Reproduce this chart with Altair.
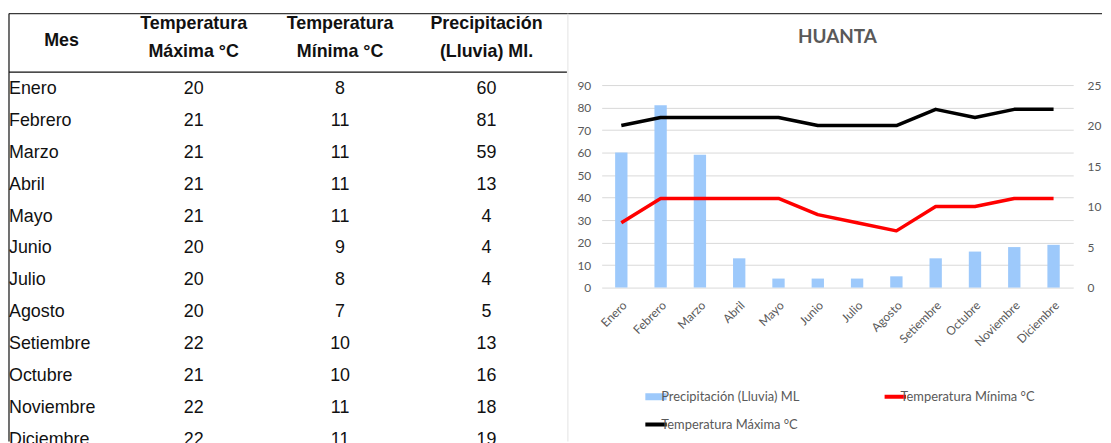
import altair as alt
import pandas as pd

# ---------------- data ----------------
meses = ["Enero", "Febrero", "Marzo", "Abril", "Mayo", "Junio", "Julio",
         "Agosto", "Setiembre", "Octubre", "Noviembre", "Diciembre"]
t_max = [20, 21, 21, 21, 21, 20, 20, 20, 22, 21, 22, 22]
t_min = [8, 11, 11, 11, 11, 9, 8, 7, 10, 10, 11, 11]
precip = [60, 81, 59, 13, 4, 4, 4, 5, 13, 16, 18, 19]

col_keys = ["tmax", "tmin", "prec"]
col_headers = ["Temperatura\nMáxima °C", "Temperatura\nMínima °C", "Precipitación\n(Lluvia) Ml."]
mes_header = "Mes"

serie_prec = "Precipitación (Lluvia) ML"
serie_min = "Temperatura Mínima °C"
serie_max = "Temperatura Máxima °C"
titulo = "HUANTA"

# ---------------- styles / layout ----------------
TBL_FONT = "Liberation Sans, Arial"
CH_FONT = "Lato"
GREY = "#595959"
BLUE = "#9dc9fb"
RED = "#ff0000"
BLACK = "#000000"

P_W, P_H = 475, 204       # chart plot area (the view)
TX0 = -597                # left edge of the table, in view pixels
TOP = -72                 # top border line
BOTTOM = 359              # bottom of the page, in view pixels
RIGHT = 504               # right end of the top border
CH_LEFT = -34             # chart frame left border

one = pd.DataFrame({"k": [0]})

# ---------------- table layers ----------------
rows_month = pd.DataFrame({"row": list(range(len(meses))), "txt": meses})
rows_num = pd.DataFrame(
    [{"row": i, "col": k, "txt": str(v)}
     for k, vals in zip(col_keys, [t_max, t_min, precip])
     for i, v in enumerate(vals)]
)
hdr = pd.DataFrame({"col": col_keys, "txt": col_headers, "row": [-2.036] * 3})
hdr_mes = pd.DataFrame({"txt": [mes_header], "row": [-1.506]})

yrow = alt.Scale(domain=[0, 11], range=[4.3, 357.1], zero=False, nice=False)
xcol = alt.Scale(domain=col_keys, range=[TX0 + 186, TX0 + 481], padding=0)

t_month = alt.Chart(rows_month).mark_text(
    align="left", baseline="middle", font=TBL_FONT, fontSize=18, color="#111111"
).encode(x=alt.value(TX0), y=alt.Y("row:Q", scale=yrow, axis=None), text="txt:N")

t_num = alt.Chart(rows_num).mark_text(
    align="center", baseline="middle", font=TBL_FONT, fontSize=18, color="#111111"
).encode(x=alt.X("col:N", scale=xcol, axis=None, sort=col_keys),
         y=alt.Y("row:Q", scale=yrow, axis=None), text="txt:N")

t_hdr = alt.Chart(hdr).mark_text(
    align="center", baseline="middle", font=TBL_FONT, fontSize=18, fontWeight="bold",
    color="#111111", lineBreak="\n", lineHeight=28
).encode(x=alt.X("col:N", scale=xcol, axis=None, sort=col_keys),
         y=alt.Y("row:Q", scale=yrow, axis=None), text="txt:N")

t_mes = alt.Chart(hdr_mes).mark_text(
    align="center", baseline="middle", font=TBL_FONT, fontSize=18, fontWeight="bold",
    color="#111111"
).encode(x=alt.value(TX0 + 53), y=alt.Y("row:Q", scale=yrow, axis=None), text="txt:N")

r_top = alt.Chart(one).mark_rule(color="#3a3a3a", strokeWidth=1.2).encode(
    x=alt.value(TX0), x2=alt.value(RIGHT), y=alt.value(TOP))
r_left = alt.Chart(one).mark_rule(color="#111111", strokeWidth=1.2).encode(
    x=alt.value(TX0), y=alt.value(TOP), y2=alt.value(BOTTOM))
r_hdr = alt.Chart(one).mark_rule(color="#111111", strokeWidth=1.2).encode(
    x=alt.value(TX0), x2=alt.value(CH_LEFT - 1), y=alt.value(-13))
c_left = alt.Chart(one).mark_rule(color="#e3e3e3", strokeWidth=1).encode(
    x=alt.value(CH_LEFT), y=alt.value(TOP), y2=alt.value(BOTTOM))

# ---------------- chart layers ----------------
df = pd.DataFrame({"mes": meses, "prec": precip})
df_lines = pd.DataFrame(
    [{"mes": m, "serie": s, "valor": v}
     for s, vals in [(serie_max, t_max), (serie_min, t_min)]
     for m, v in zip(meses, vals)]
)

xaxis = alt.Axis(title=None, labelAngle=315, labelAlign="right", labelBaseline="top",
                 labelPadding=12, labelOverlap=False, grid=False, domain=False, ticks=False,
                 labelFont=CH_FONT, labelFontSize=12, labelColor=GREY)
xscale = alt.Scale(paddingInner=0.686, paddingOuter=0.343)

bars = alt.Chart(df).mark_bar(color=BLUE).encode(
    x=alt.X("mes:N", sort=meses, scale=xscale, axis=xaxis),
    y=alt.Y("prec:Q", scale=alt.Scale(domain=[0, 90], nice=False),
            axis=alt.Axis(title=None, values=list(range(0, 91, 10)), grid=True,
                          gridColor="#d9d9d9", domain=False, ticks=False,
                          labelPadding=11, labelFont=CH_FONT, labelFontSize=12,
                          labelColor=GREY)),
)

legend = alt.Legend(
    title=None, orient="none", legendX=44, legendY=301, columns=2, columnPadding=85,
    symbolType="stroke", symbolSize=900,
    symbolStrokeWidth=alt.ExprRef(expr="datum.value === '" + serie_prec + "' ? 7 : 4"),
    rowPadding=2, clipHeight=26, labelFont=CH_FONT, labelFontSize=13, labelColor=GREY,
    labelOffset=3, padding=0,
)

lines = alt.Chart(df_lines).mark_line(strokeWidth=3.5, strokeJoin="round").encode(
    x=alt.X("mes:N", sort=meses, scale=xscale, axis=None),
    y=alt.Y("valor:Q", scale=alt.Scale(domain=[0, 25], nice=False),
            axis=alt.Axis(title=None, orient="right", values=[0, 5, 10, 15, 20, 25],
                          grid=False, domain=False, ticks=False, labelPadding=14,
                          labelFont=CH_FONT, labelFontSize=12, labelColor=GREY)),
    stroke=alt.Stroke("serie:N",
                      scale=alt.Scale(domain=[serie_prec, serie_max, serie_min],
                                      range=[BLUE, BLACK, RED]),
                      legend=legend),
)

title_txt = alt.Chart(one).mark_text(
    text=titulo, font=CH_FONT, fontSize=19, fontWeight="bold", color=GREY,
    align="center", baseline="middle"
).encode(x=alt.value(P_W / 2), y=alt.value(-48))

chart = alt.layer(
    r_top, r_left, r_hdr, c_left, t_hdr, t_mes, t_month, t_num,
    title_txt, bars, lines
).resolve_scale(x="independent", y="independent").properties(
    width=P_W, height=P_H,
    padding={"left": 0, "top": 3, "right": 0, "bottom": 0},
).configure_view(stroke=None)

chart.save("out.html", embed_options={"renderer": "svg", "actions": False})
